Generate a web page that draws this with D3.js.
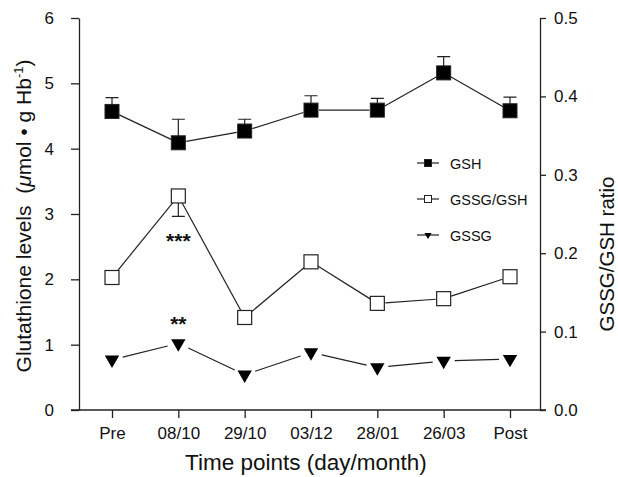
<!DOCTYPE html>
<html>
<head>
<meta charset="utf-8">
<script src="https://cdn.jsdelivr.net/npm/d3@7"></script>
<style>
  body { margin: 0; background: #fff; }
  text { font-family: "Liberation Sans", Arial, sans-serif; }
</style>
</head>
<body>
<div id="paper"></div>
<script>
const timepoints = ["Pre", "08/10", "29/10", "03/12", "28/01", "26/03", "Post"];
const gsh = [4.57, 4.09, 4.27, 4.59, 4.59, 5.16, 4.58];
const gshErr = [0.21, 0.36, 0.18, 0.22, 0.18, 0.25, 0.21];
const ratio = [0.169, 0.273, 0.118, 0.189, 0.136, 0.142, 0.170];
const ratioErr = [0, 0.026, 0, 0, 0, 0, 0];
const gssg = [0.77, 1.02, 0.54, 0.88, 0.65, 0.75, 0.78];
const leftTicks = [0, 1, 2, 3, 4, 5, 6];
const rightTicks = [0, 0.1, 0.2, 0.3, 0.4, 0.5];

const W = 618, H = 477;
const svg = d3.select("#paper").append("svg")
  .attr("width", W).attr("height", H)
  .style("background-color", "white");

const x = d3.scalePoint().domain(timepoints).range([112, 510]);
const yL = d3.scaleLinear().domain([0, 6]).range([410, 18]);
const yR = d3.scaleLinear().domain([0, 0.5]).range([410, 18]);

// axes
const axL = svg.append("g").attr("transform", "translate(79,0)")
  .call(d3.axisLeft(yL).tickValues(leftTicks).tickSize(8).tickPadding(17).tickSizeOuter(0)
    .tickFormat(d3.format("d")));
const axR = svg.append("g").attr("transform", "translate(540,0)")
  .call(d3.axisRight(yR).tickValues(rightTicks).tickSize(6).tickPadding(8).tickSizeOuter(0)
    .tickFormat(d3.format(".1f")));
const axB = svg.append("g").attr("transform", "translate(0,410)")
  .call(d3.axisBottom(x).tickSize(8).tickPadding(9).tickSizeOuter(0));
// bottom line spans between the two vertical axes plus tick stubs
axB.select(".domain").remove();
svg.append("line").attr("x1", 71).attr("x2", 546).attr("y1", 410).attr("y2", 410)
  .attr("stroke", "#222").attr("stroke-width", 1.3);

[axL, axR, axB].forEach(a => {
  a.selectAll("path, line").attr("stroke", "#222").attr("stroke-width", 1.3);
  a.selectAll("text").attr("font-size", "17px").attr("fill", "#111")
    .attr("font-family", "Liberation Sans, Arial, sans-serif");
});

// titles
svg.append("text").attr("x", 306).attr("y", 470).attr("text-anchor", "middle")
  .attr("font-size", "22.5px").attr("fill", "#111").text("Time points (day/month)");

const lt = svg.append("text").attr("transform", "translate(31,216) rotate(-90)")
  .attr("text-anchor", "middle").attr("font-size", "21px").attr("fill", "#111");
lt.append("tspan").text("Glutathione levels\u00a0 (");
lt.append("tspan").attr("font-style", "italic").text("μ");
lt.append("tspan").text("mol • g Hb");
lt.append("tspan").attr("font-size", "13px").attr("dy", -8).text("-1");
lt.append("tspan").attr("dy", 8).text(")");

svg.append("text").attr("transform", "translate(614,254) rotate(-90)")
  .attr("text-anchor", "middle").attr("font-size", "20.5px").attr("fill", "#111")
  .text("GSSG/GSH ratio");

// helper: line segments shortened at each end so they stop short of the markers
function segs(vals, ys, gap) {
  const pts = vals.map((v, i) => [x(timepoints[i]), ys(v)]);
  const out = [];
  for (let i = 0; i < pts.length - 1; i++) {
    const [x1, y1] = pts[i], [x2, y2] = pts[i + 1];
    const len = Math.hypot(x2 - x1, y2 - y1);
    const ux = (x2 - x1) / len, uy = (y2 - y1) / len;
    out.push([x1 + ux * gap, y1 + uy * gap, x2 - ux * gap, y2 - uy * gap]);
  }
  return out;
}

function drawLines(cls, vals, ys, gap) {
  svg.selectAll("." + cls).data(segs(vals, ys, gap)).join("line")
    .attr("class", cls)
    .attr("x1", d => d[0]).attr("y1", d => d[1])
    .attr("x2", d => d[2]).attr("y2", d => d[3])
    .attr("stroke", "#222").attr("stroke-width", 1.2);
}

drawLines("l_gsh", gsh, yL, 8);
drawLines("l_ratio", ratio, yR, 8);
drawLines("l_gssg", gssg, yL, 11);

// error bars
const cap = 6.5;
const gshE = gsh.map((v, i) => ({ t: timepoints[i], v: v, e: gshErr[i] }));
svg.selectAll(".eb_gsh").data(gshE).join("path")
  .attr("class", "eb_gsh")
  .attr("d", d => {
    const cx = x(d.t), y0 = yL(d.v), y1 = yL(d.v + d.e);
    return `M${cx},${y0}V${y1}M${cx - cap},${y1}H${cx + cap}`;
  })
  .attr("stroke", "#222").attr("stroke-width", 1.2).attr("fill", "none");

const ratioE = ratio.map((v, i) => ({ t: timepoints[i], v: v, e: ratioErr[i] })).filter(d => d.e > 0);
svg.selectAll(".eb_ratio").data(ratioE).join("path")
  .attr("class", "eb_ratio")
  .attr("d", d => {
    const cx = x(d.t), y0 = yR(d.v), y1 = yR(d.v - d.e);
    return `M${cx},${y0}V${y1}M${cx - cap},${y1}H${cx + cap}`;
  })
  .attr("stroke", "#222").attr("stroke-width", 1.2).attr("fill", "none");

// markers
const sq = 14;
svg.selectAll(".m_gsh").data(gsh).join("rect")
  .attr("class", "m_gsh")
  .attr("x", (d, i) => x(timepoints[i]) - sq / 2).attr("y", d => yL(d) - sq / 2)
  .attr("width", sq).attr("height", sq)
  .attr("fill", "#000").attr("stroke", "#222").attr("stroke-width", 1);

svg.selectAll(".m_ratio").data(ratio).join("rect")
  .attr("class", "m_ratio")
  .attr("x", (d, i) => x(timepoints[i]) - sq / 2).attr("y", d => yR(d) - sq / 2)
  .attr("width", sq).attr("height", sq)
  .attr("fill", "white").attr("stroke", "#222").attr("stroke-width", 1.2);

const tri = d3.symbol().type(d3.symbolTriangle).size(90);
svg.selectAll(".m_gssg").data(gssg).join("path")
  .attr("class", "m_gssg")
  .attr("d", tri)
  .attr("transform", (d, i) => `translate(${x(timepoints[i])},${yL(d)}) rotate(180)`)
  .attr("fill", "#000");

// significance marks
svg.append("text").attr("x", x("08/10")).attr("y", yR(ratio[1] - ratioErr[1]) + 32)
  .attr("text-anchor", "middle").attr("font-size", "21px").attr("font-weight", "bold")
  .attr("fill", "#111").text("***");
svg.append("text").attr("x", x("08/10")).attr("y", yL(gssg[1]) - 12)
  .attr("text-anchor", "middle").attr("font-size", "21px").attr("font-weight", "bold")
  .attr("fill", "#111").text("**");

// legend
const legend = [
  { name: "GSH", kind: "fsq", y: 163 },
  { name: "GSSG/GSH", kind: "osq", y: 199 },
  { name: "GSSG", kind: "tri", y: 235 }
];
const lg = svg.selectAll(".lg").data(legend).join("g")
  .attr("class", "lg").attr("transform", d => `translate(428,${d.y})`);
lg.append("line").attr("x1", -11).attr("x2", 11).attr("stroke", "#222").attr("stroke-width", 1.2);
lg.filter(d => d.kind !== "tri").append("rect")
  .attr("x", -3.5).attr("y", -3.5).attr("width", 7).attr("height", 7)
  .attr("fill", d => d.kind === "fsq" ? "#000" : "white")
  .attr("stroke", "#222").attr("stroke-width", 1);
lg.filter(d => d.kind === "tri").append("path")
  .attr("d", d3.symbol().type(d3.symbolTriangle).size(22))
  .attr("transform", "rotate(180)").attr("fill", "#000");
lg.append("text").attr("x", 22).attr("y", 5.5).attr("font-size", "14.5px")
  .attr("fill", "#111").text(d => d.name);
</script>
</body>
</html>
